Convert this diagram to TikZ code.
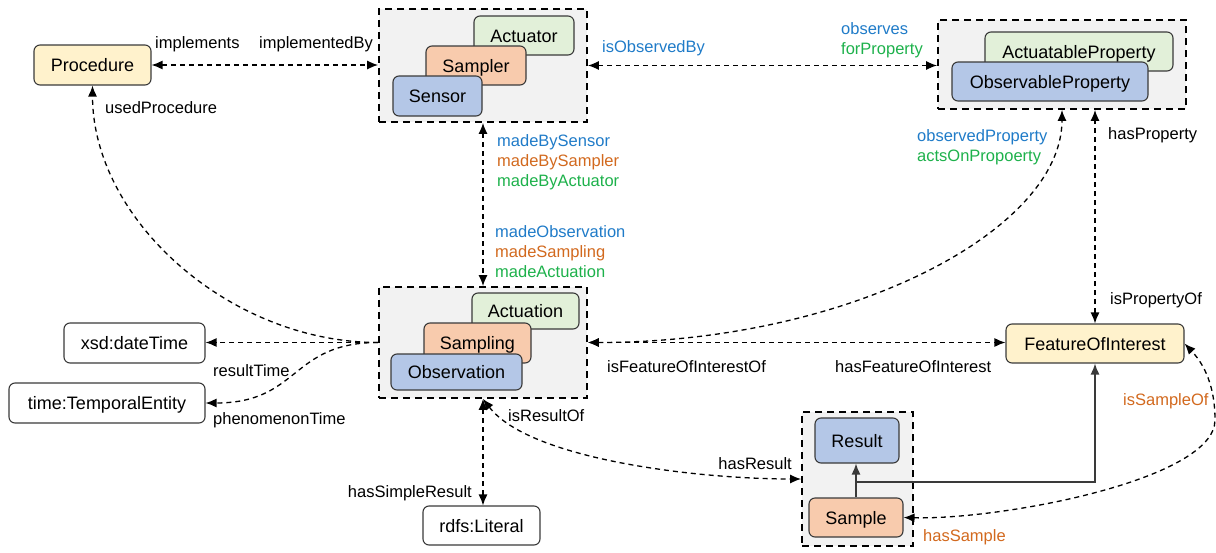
\documentclass[tikz,border=0pt]{standalone}
\usepackage{fontspec}
\setmainfont{Liberation Sans}
\usetikzlibrary{arrows.meta}
\definecolor{cyel}{HTML}{FFF2CC}
\definecolor{cgrn}{HTML}{E2F0D9}
\definecolor{corg}{HTML}{F8CBAD}
\definecolor{cblu}{HTML}{B4C7E7}
\definecolor{cgry}{HTML}{F2F2F2}
\definecolor{tblu}{HTML}{1F7BC8}
\definecolor{torg}{HTML}{D2691E}
\definecolor{tgrn}{HTML}{1DB14B}
\definecolor{bord}{HTML}{3A3A3A}
\begin{document}
\begin{tikzpicture}[x=1pt,y=-1pt,
 box/.style={draw=bord, line width=1.1pt, rounded corners=6pt, inner sep=0pt,
   font=\fontsize{18}{20}\selectfont, text height=13pt, text depth=0pt, align=center},
 grp/.style={draw=black, fill=cgry, line width=1.8pt, dash pattern=on 7pt off 5pt, inner sep=0pt},
 lbl/.style={font=\fontsize{16.5}{19}\selectfont, inner sep=0pt, anchor=base west, yshift=-6pt},
 lblr/.style={lbl, anchor=base east},
 conn/.style={line width=1.3pt, dash pattern=on 5pt off 4pt, >={Latex[length=11pt,width=9pt]}},
 sconn/.style={line width=1.3pt, draw=bord, >={Latex[length=11pt,width=9pt]}}
]
\useasboundingbox (0,0) rectangle (1216,552);

% groups
\node[grp, minimum width=208pt, minimum height=113pt] (sg) at (483,65.5) {};
\node[grp, minimum width=248pt, minimum height=89pt] (pg) at (1062,64.5) {};
\node[grp, minimum width=208pt, minimum height=111pt] (og) at (483,342.5) {};
\node[grp, minimum width=111pt, minimum height=134pt] (rg) at (857.5,479) {};

% nodes
\node[box, fill=cyel, minimum width=117pt, minimum height=40pt] (proc) at (92.5,65) {Procedure};
\node[box, fill=cgrn, minimum width=100pt, minimum height=39pt] (act) at (524,35.5) {Actuator};
\node[box, fill=corg, minimum width=100pt, minimum height=39pt] (smp) at (476,65.5) {Sampler};
\node[box, fill=cblu, minimum width=89pt, minimum height=40pt] (sen) at (437.5,96) {Sensor};

\node[box, fill=cgrn, minimum width=188pt, minimum height=39pt] (ap) at (1079,51.5) {ActuatableProperty};
\node[box, fill=cblu, minimum width=196pt, minimum height=39pt] (op) at (1050,81.5) {ObservableProperty};

\node[box, fill=cgrn, minimum width=107pt, minimum height=36pt] (actn) at (525.5,311) {Actuation};
\node[box, fill=corg, minimum width=107pt, minimum height=40pt] (smpl) at (477.5,343) {Sampling};
\node[box, fill=cblu, minimum width=131pt, minimum height=36pt] (obs) at (456.5,372) {Observation};

\node[box, fill=cyel, minimum width=178pt, minimum height=39pt] (foi) at (1095,343.5) {FeatureOfInterest};
\node[box, fill=cblu, minimum width=84pt, minimum height=45pt] (res) at (857,440.5) {Result};
\node[box, fill=corg, minimum width=94pt, minimum height=39pt] (sample) at (856,517.5) {Sample};
\node[box, fill=white, minimum width=117pt, minimum height=39pt] (lit) at (481.5,525.5) {rdfs:Literal};
\node[box, fill=white, minimum width=141pt, minimum height=40pt] (xsd) at (134.5,343) {xsd:dateTime};
\node[box, fill=white, minimum width=196pt, minimum height=40pt] (tte) at (107,403) {time:TemporalEntity};

% connectors
\draw[conn,<->] (proc.east) -- (proc.east -| sg.west);
\draw[conn,<->] (sg.east) -- (sg.east -| pg.west);
\draw[conn,<->] (sg.south) -- (og.north);
\draw[conn,<->] (og.east) -- (og.east -| foi.west);
\draw[conn,<->] (og.east) .. controls (850,342.5) and (1062,230) .. (pg.south);
\draw[conn,<->] (foi.north) -- (foi.north |- pg.south);
\draw[conn,->] (og.west) -- (og.west -| xsd.east);
\draw[conn,->] (og.west) .. controls (290,342.5) and (300,403) .. (tte.east);
\draw[conn,->] (og.west) .. controls (230,342.5) and (92.5,220) .. (proc.south);
\draw[conn,<->] (og.south) -- (og.south |- lit.north);
\draw[conn,<->] (og.south) .. controls (530,460) and (700,479) .. (rg.west);
\draw[conn,<->] (sample.east) .. controls (1000,520) and (1215,480) .. (1215,420)
   .. controls (1215,380) and (1200,360) .. (foi.east);
\draw[sconn,->] (sample.north) -- (sample.north |- res.south);
\coordinate (jn) at (856,482);
\draw[sconn,->] (jn) -| (foi.south);

% labels
\node[lbl] (l1) at (155,42) {implements};
\node[lbl] (l2) at (259,42) {implementedBy};
\node[lbl] (l3) at (105,107) {usedProcedure};
\node[lbl, text=tblu] (l4) at (602,46) {isObservedBy};
\node[lbl, text=tblu] (l5) at (841,28) {observes};
\node[lbl, text=tgrn] (l6) at (841,48) {forProperty};
\node[lbl, text=tblu] (l7) at (497,140) {madeBySensor};
\node[lbl, text=torg] (l8) at (497,160) {madeBySampler};
\node[lbl, text=tgrn] (l9) at (497,180) {madeByActuator};
\node[lbl, text=tblu] (l10) at (495,231) {madeObservation};
\node[lbl, text=torg] (l11) at (495,251) {madeSampling};
\node[lbl, text=tgrn] (l12) at (495,271) {madeActuation};
\node[lbl, text=tblu] (l13) at (917,135) {observedProperty};
\node[lbl, text=tgrn] (l14) at (917,155) {actsOnPropoerty};
\node[lbl] (l15) at (1108,133) {hasProperty};
\node[lbl] (l16) at (1110,298) {isPropertyOf};
\node[lbl] (l17) at (607,366) {isFeatureOfInterestOf};
\node[lbl] (l18) at (835,366) {hasFeatureOfInterest};
\node[lbl] (l19) at (213,370) {resultTime};
\node[lbl] (l20) at (213,418) {phenomenonTime};
\node[lbl] (l21) at (508,415) {isResultOf};
\node[lblr] (l22) at (792,463) {hasResult};
\node[lblr] (l23) at (472,491) {hasSimpleResult};
\node[lbl, text=torg] (l24) at (1123,399) {isSampleOf};
\node[lbl, text=torg] (l25) at (923,535) {hasSample};
\end{tikzpicture}
\end{document}
